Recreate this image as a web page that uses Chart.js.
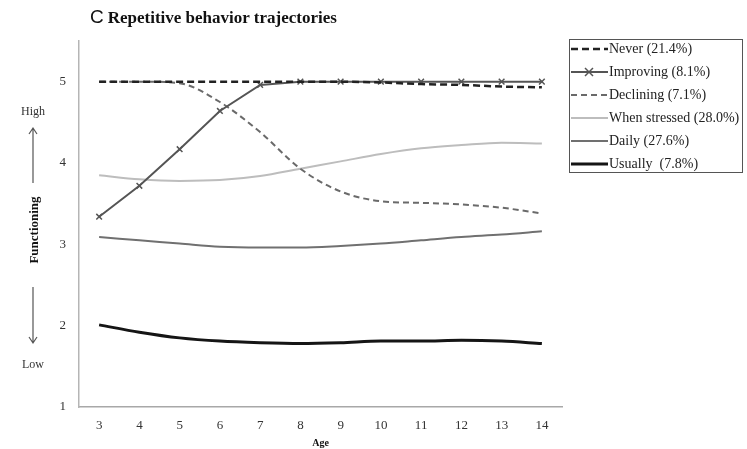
<!DOCTYPE html>
<html>
<head>
<meta charset="utf-8">
<script src="https://cdn.jsdelivr.net/npm/chart.js@4.4.1/dist/chart.umd.min.js"></script>
<style>
  html, body { margin: 0; padding: 0; background: #fff; }
  .wrap { position: relative; width: 747px; height: 449px; overflow: hidden; }
  .title { position: absolute; left: 90px; top: 6px; white-space: nowrap; color: #111; }
  .title .panel { font: 19px 'Liberation Sans', Arial, sans-serif; }
  .title .txt { font: bold 17px 'Liberation Serif', 'Times New Roman', serif; margin-left: 4px; }
  .legend { position: absolute; left: 569px; top: 39px; width: 174px; height: 134px;
    border: 1px solid #555; box-sizing: border-box; padding: 0;
    display: flex; flex-direction: column; justify-content: space-between;
    font: 14px 'Liberation Serif', 'Times New Roman', serif; color: #222; }
  .legend-item { height: 17px; display: flex; align-items: center; white-space: nowrap; }
  .legend-item svg { flex: none; margin-left: 1px; margin-right: 1px; }
</style>
</head>
<body>
<div class="wrap">
  <canvas id="chart" width="747" height="449"></canvas>
  <div class="title"><span class="panel">C</span><span class="txt">Repetitive behavior trajectories</span></div>
  <div class="legend" id="legend"></div>
</div>
<script>
const ages = ['3', '4', '5', '6', '7', '8', '9', '10', '11', '12', '13', '14'];
const yTicks = [1, 2, 3, 4, 5];

const never = [5, 5, 5, 5, 5, 5, 5, 4.99, 4.97, 4.96, 4.94, 4.93];
const improving = [3.34, 3.72, 4.17, 4.64, 4.96, 5, 5, 5, 5, 5, 5, 5];
const declining = [5, 5, 4.98, 4.75, 4.38, 3.93, 3.65, 3.53, 3.51, 3.49, 3.45, 3.38];
const whenStressed = [3.85, 3.8, 3.78, 3.79, 3.84, 3.93, 4.02, 4.11, 4.18, 4.22, 4.25, 4.24];
const daily = [3.09, 3.05, 3.01, 2.97, 2.96, 2.96, 2.98, 3.01, 3.05, 3.09, 3.12, 3.16];
const usually = [2.01, 1.92, 1.85, 1.81, 1.79, 1.78, 1.79, 1.81, 1.81, 1.82, 1.81, 1.78];

const serif = "'Liberation Serif', 'Times New Roman', serif";

const datasets = [
  { label: 'Never (21.4%)', data: never, borderColor: '#222', borderWidth: 2.5, borderDash: [7, 4], tension: 0.3 },
  { label: 'Improving (8.1%)', data: improving, borderColor: '#555', borderWidth: 2, tension: 0,
    pointStyle: 'crossRot', pointRadius: 4, pointBorderWidth: 1.5, pointBorderColor: '#555' },
  { label: 'Declining (7.1%)', data: declining, borderColor: '#6a6a6a', borderWidth: 2, borderDash: [6, 4], tension: 0.4 },
  { label: 'When stressed (28.0%)', data: whenStressed, borderColor: '#bdbdbd', borderWidth: 2, tension: 0.4 },
  { label: 'Daily (27.6%)', data: daily, borderColor: '#707070', borderWidth: 2, tension: 0.4 },
  { label: 'Usually  (7.8%)', data: usually, borderColor: '#151515', borderWidth: 3, tension: 0.4 },
].map((d) => ({ pointRadius: 0, fill: false, cubicInterpolationMode: 'monotone', ...d }));
datasets[1].cubicInterpolationMode = 'default';

// left side annotation: High / arrows / Functioning / Low
const sideLabels = {
  id: 'sideLabels',
  afterDraw(chart) {
    const { ctx } = chart;
    const x = 33;
    ctx.save();
    ctx.fillStyle = '#333';
    ctx.strokeStyle = '#555';
    ctx.lineWidth = 1.2;
    ctx.textAlign = 'center';
    ctx.textBaseline = 'middle';
    ctx.font = '12px ' + serif;
    ctx.fillText('High', x, 112);
    ctx.fillText('Low', x, 365);
    const arrow = (y1, y2) => {
      const dir = y2 > y1 ? 1 : -1;
      ctx.beginPath();
      ctx.moveTo(x, y1);
      ctx.lineTo(x, y2);
      ctx.moveTo(x - 4, y2 - dir * 6);
      ctx.lineTo(x, y2);
      ctx.lineTo(x + 4, y2 - dir * 6);
      ctx.stroke();
    };
    arrow(183, 128);
    arrow(287, 343);
    ctx.translate(x + 2, 230);
    ctx.rotate(-Math.PI / 2);
    ctx.fillStyle = '#111';
    ctx.font = 'bold 13px ' + serif;
    ctx.fillText('Functioning', 0, 0);
    ctx.restore();
  },
};

const chart = new Chart(document.getElementById('chart'), {
  type: 'line',
  data: { labels: ages, datasets },
  options: {
    responsive: false,
    animation: false,
    layout: { padding: { top: 41, right: 185, left: 0, bottom: 0 } },
    plugins: { legend: { display: false }, tooltip: { enabled: false } },
    scales: {
      x: {
        offset: true,
        grid: { display: false, drawTicks: false },
        border: { display: true, color: '#a8a8a8', width: 1.5 },
        ticks: { color: '#333', font: { family: serif, size: 13 }, padding: 11, maxRotation: 0 },
        title: { display: true, text: 'Age', color: '#111', font: { family: serif, size: 10, weight: 'bold' }, padding: { top: 3, bottom: 0 } },
        afterFit: (s) => { s.height = 42; },
      },
      y: {
        min: 1,
        max: 5.5,
        grid: { display: false, drawTicks: false },
        border: { display: true, color: '#b5b5b5', width: 1.5 },
        ticks: { color: '#333', font: { family: serif, size: 13 }, padding: 13, stepSize: 1 },
        afterBuildTicks: (s) => { s.ticks = yTicks.map((v) => ({ value: v })); },
        afterFit: (s) => { s.width = 79; },
      },
    },
  },
  plugins: [sideLabels],
});

// boxed legend built from the datasets
const legendEl = document.getElementById('legend');
legendEl.innerHTML = chart.data.datasets
  .map((d) => {
    const dash = d.borderDash ? `stroke-dasharray="${d.borderDash.join(' ')}"` : '';
    const mark = d.pointStyle
      ? `<path d="M14 5 L22 13 M22 5 L14 13" stroke="${d.borderColor}" stroke-width="1.5"/>`
      : '';
    return `<div class="legend-item"><svg width="37" height="18">
      <line x1="0" y1="9" x2="37" y2="9" stroke="${d.borderColor}" stroke-width="${d.borderWidth}" ${dash}/>${mark}
    </svg><span>${d.label.replace(/ /g, '&nbsp;')}</span></div>`;
  })
  .join('');
</script>
</body>
</html>
